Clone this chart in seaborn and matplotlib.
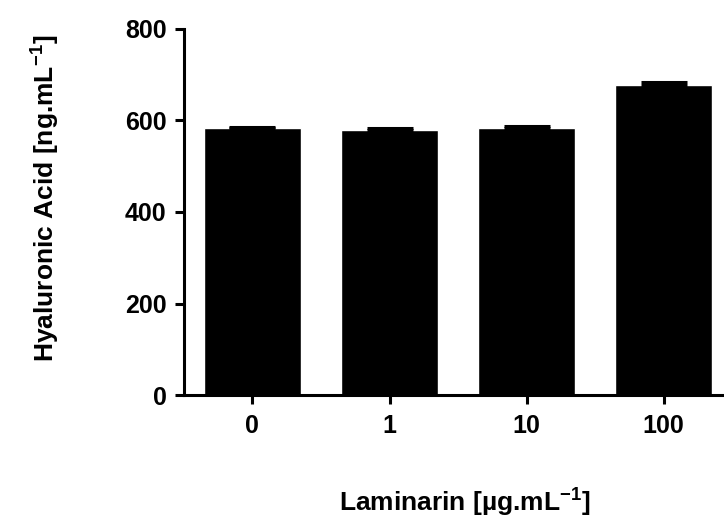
import matplotlib
matplotlib.use("Agg")
import matplotlib.pyplot as plt
import numpy as np
import seaborn as sns

# Daten
concentrations = ["0", "1", "10", "100"]
hyaluronic_acid = [583, 579, 583, 678]
sem_upper = [3, 5, 5, 6]

sns.set_style("ticks")
plt.rcParams["font.family"] = ["Liberation Sans", "DejaVu Sans"]
plt.rcParams["font.weight"] = "bold"
plt.rcParams["mathtext.fontset"] = "custom"
plt.rcParams["mathtext.rm"] = "Liberation Sans:bold"
plt.rcParams["mathtext.default"] = "rm"
for key in ["text.color", "axes.labelcolor", "axes.edgecolor", "xtick.color", "ytick.color"]:
    plt.rcParams[key] = "black"

fig = plt.figure(figsize=(7.24, 5.23), dpi=100)
ax = fig.add_axes([0.254, 0.2447, 0.746, 0.6999])

sns.barplot(x=concentrations, y=hyaluronic_acid, color="black", saturation=1,
            width=0.71, errorbar=None, ax=ax)
ax.errorbar(np.arange(len(concentrations)), hyaluronic_acid,
            yerr=[np.zeros(len(sem_upper)), sem_upper], fmt="none",
            ecolor="black", elinewidth=2.2, capsize=16.5, capthick=2.2)

ax.set_ylim(0, 800)
ax.set_yticks([0, 200, 400, 600, 800])
ax.set_xlim(-0.5, 3.44)

for side in ["top", "right"]:
    ax.spines[side].set_visible(False)
for side in ["left", "bottom"]:
    ax.spines[side].set_linewidth(2.2)
ax.tick_params(axis="both", direction="out", length=6.5, width=2.2, labelsize=18)
ax.tick_params(axis="y", pad=6)
ax.tick_params(axis="x", pad=7)

ax.set_xlabel(r"Laminarin [µg.mL$^{-1}$]", fontsize=19, fontweight="bold")
ax.set_ylabel(r"Hyaluronic Acid [ng.mL$^{-1}$]", fontsize=19, fontweight="bold")
ax.xaxis.set_label_coords(0.52, -0.25)
ax.yaxis.set_label_coords(-0.225, 0.538)

plt.savefig("out.png", dpi=100)
plt.close()
